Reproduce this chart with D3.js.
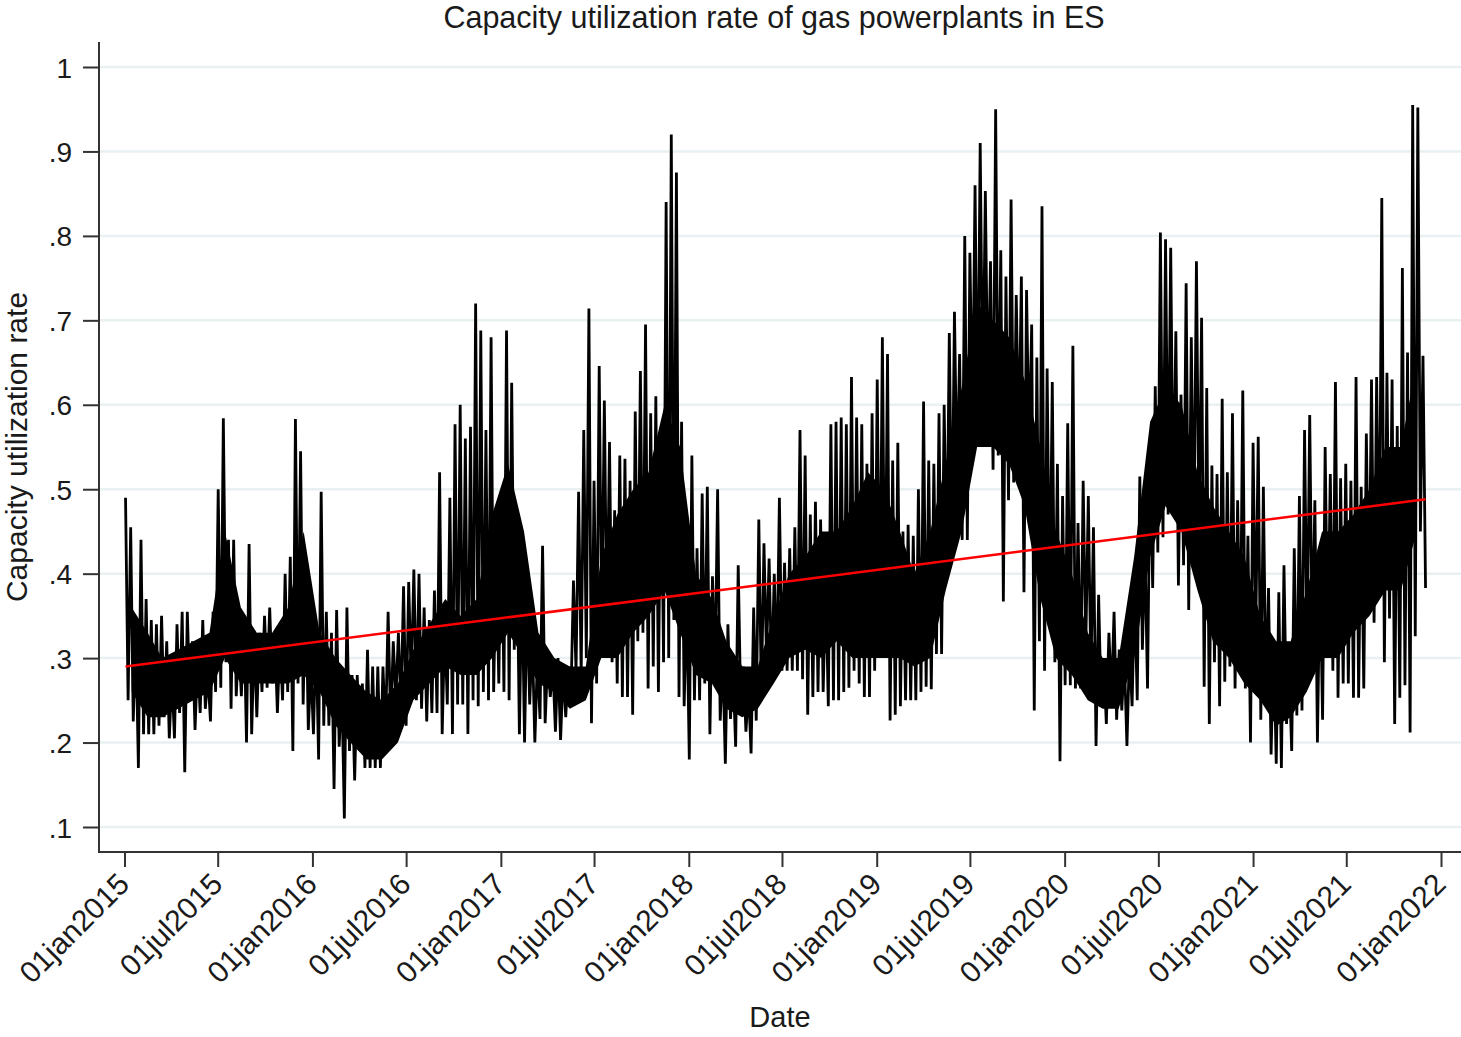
<!DOCTYPE html>
<html>
<head>
<meta charset="utf-8">
<script src="https://cdn.jsdelivr.net/npm/d3@7"></script>
<style>
  body { margin: 0; background: #fff; }
  text { font-family: "Liberation Sans", Arial, sans-serif; fill: #1a1a1a; }
</style>
</head>
<body>
<svg width="1461" height="1037"></svg>
<script>
// ---------------- data (10-day windows from 01jan2015) ----------------
const startDate = "2015-01-01";
const slotDays = 10;

// highest value seen in each 10-day window
const hiVals = [
  .49,.455,.33,.44,.37,.345,.34,.35,.32,.28,
  .34,.355,.355,.32,.30,.345,.28,.355,.50,.584,
  .44,.44,.32,.35,.435,.325,.33,.35,.36,.325,
  .325,.40,.42,.583,.545,.395,.29,.33,.497,.355,
  .33,.357,.27,.36,.28,.28,.27,.31,.29,
  .29,.29,.355,.32,.33,.385,.39,.405,.40,.36,
  .345,.38,.52,.34,.49,.577,.60,.56,.574,.72,
  .688,.57,.68,.43,.495,.688,.626,.445,.40,.37,
  .325,.30,.433,.30,.29,.30,.285,.29,.392,.497,
  .57,.714,.51,.646,.605,.556,.475,.54,.536,.51,
  .592,.64,.695,.59,.61,.57,.84,.92,.875,.58,
  .37,.54,.43,.495,.503,.397,.50,.30,.34,.285,
  .41,.29,.264,.36,.464,.436,.418,.40,.49,.413,
  .43,.455,.57,.54,.47,.485,.464,.39,.577,.58,
  .585,.577,.633,.585,.577,.53,.59,.63,.68,.66,
  .534,.555,.45,.458,.445,.50,.604,.534,.53,.59,
  .60,.685,.71,.66,.80,.78,.86,.91,.853,.77,
  .95,.783,.752,.843,.73,.752,.736,.695,.656,.835,
  .643,.627,.53,.492,.578,.67,.46,.51,.492,.455,
  .375,.295,.33,.355,.31,.30,.31,.378,.515,.43,
  .545,.622,.804,
  .796,.786,.687,.612,.744,.68,.77,.703,.62,.528,
  .518,.607,.52,.59,.487,.617,.445,.555,.562,.503,
  .383,.32,.378,.41,.29,.43,.492,.57,.588,.487,
  .41,.55,.518,.627,.513,.53,.51,.633,.503,.566,
  .63,.633,.845,.638,.63,.575,.762,.662,.955,.952,.658
];

// lowest value seen in each 10-day window
const loVals = [
  .25,.225,.17,.21,.21,.21,.22,.23,.205,.205,
  .235,.165,.25,.215,.235,.24,.225,.26,.265,.295,
  .24,.255,.255,.20,.21,.23,.26,.265,.27,.235,
  .25,.26,.19,.27,.245,.215,.21,.18,.22,.22,
  .145,.195,.11,.19,.155,.20,.17,.17,.17,
  .17,.21,.22,.25,.24,.22,.27,.25,.24,.225,
  .235,.235,.21,.245,.21,.245,.245,.21,.25,.243,
  .26,.25,.26,.27,.26,.25,.31,.21,.20,.245,
  .20,.228,.223,.254,.213,.203,.23,.25,.285,.28,
  .30,.223,.27,.33,.33,.295,.27,.254,.254,.233,
  .32,.33,.264,.29,.26,.295,.30,.345,.254,.243,
  .18,.25,.25,.27,.21,.28,.226,.175,.228,.195,
  .24,.213,.187,.226,.254,.30,.275,.28,.285,.285,
  .285,.285,.275,.233,.254,.26,.26,.243,.25,.25,
  .26,.265,.285,.27,.254,.254,.285,.32,.32,.226,
  .233,.243,.25,.25,.25,.26,.266,.263,.305,.305,
  .40,.42,.508,.44,.44,.575,.55,.596,.596,.523,
  .54,.367,.487,.508,.55,.378,.544,.238,.32,.285,
  .347,.295,.178,.268,.268,.264,.264,.31,.28,.196,
  .243,.222,.253,.227,.238,.196,.243,.25,.31,.264,
  .383,.425,.443,
  .47,.47,.386,.41,.357,.435,.435,.266,.222,.295,
  .243,.272,.29,.264,.29,.264,.20,.318,.227,.253,
  .186,.175,.17,.222,.19,.232,.238,.305,.31,.20,
  .227,.31,.285,.253,.27,.27,.253,.253,.264,.352,
  .342,.378,.295,.347,.222,.253,.268,.212,.326,.45,.383
];

// solid core of the band, one pair per month (jan2015 .. nov2021)
const coreMonths = 83;
const coreLo = [
  .26,.23,.23,.24,.25,.26,.30,.27,.27,.27,.27,.28,
  .26,.22,.20,.18,.18,.20,.25,.27,.29,.28,.28,.30,
  .33,.30,.27,.26,.24,.25,.30,.30,.33,.35,.38,.33,
  .28,.27,.24,.23,.24,.27,.30,.31,.30,.32,.30,.30,
  .30,.30,.29,.30,.38,.45,.55,.55,.53,.48,.37,.30,
  .28,.25,.24,.24,.30,.42,.48,.45,.38,.32,.30,.27,
  .25,.22,.23,.26,.30,.30,.33,.35,.38,.38,.45
];
const coreHi = [
  .36,.33,.30,.31,.32,.33,.45,.36,.33,.33,.36,.45,
  .33,.30,.28,.26,.25,.27,.31,.34,.37,.35,.37,.47,
  .53,.45,.33,.30,.29,.29,.42,.47,.50,.52,.60,.55,
  .40,.37,.32,.29,.29,.35,.40,.42,.45,.45,.48,.52,
  .50,.45,.40,.45,.53,.62,.72,.70,.68,.63,.55,.45,
  .40,.33,.30,.30,.42,.58,.62,.60,.52,.48,.45,.42,
  .35,.32,.32,.38,.45,.45,.47,.50,.55,.55,.65
];

// linear fit, value at first and last observation
const trendVals = [0.290, 0.488];

const yTicks = [0.1, 0.2, 0.3, 0.4, 0.5, 0.6, 0.7, 0.8, 0.9, 1];
const xTickDates = ["2015-01-01","2015-07-01","2016-01-01","2016-07-01","2017-01-01","2017-07-01",
  "2018-01-01","2018-07-01","2019-01-01","2019-07-01","2020-01-01","2020-07-01",
  "2021-01-01","2021-07-01","2022-01-01"];

const titleText = "Capacity utilization rate of gas powerplants in ES";
const yTitle = "Capacity utilization rate";
const xTitle = "Date";

// ---------------- setup ----------------
const parse = d3.timeParse("%Y-%m-%d");
const t0 = parse(startDate);

const series = [];
hiVals.forEach(function(h, i) {
  series.push({date: d3.timeDay.offset(t0, i*slotDays + 2), v: h});
  series.push({date: d3.timeDay.offset(t0, i*slotDays + 7), v: loVals[i]});
});

const core = d3.range(coreMonths).map(function(i) {
  return {date: d3.timeDay.offset(d3.timeMonth.offset(t0, i), 14), lo: coreLo[i], hi: coreHi[i]};
});

const frame = {left: 99, right: 1461, top: 42, bottom: 852};

const xs = d3.scaleTime().domain([parse("2015-01-01"), parse("2022-01-01")]).range([124.5, 1441]);
const ys = d3.scaleLinear().domain([0.1, 1]).range([827, 67]);

const svg = d3.select("svg");
svg.append("rect").attr("width", 1461).attr("height", 1037).attr("fill", "#fff");

// grid
svg.append("g").selectAll("line")
  .data(yTicks)
  .join("line")
  .attr("x1", frame.left + 1).attr("x2", frame.right)
  .attr("y1", d => ys(d)).attr("y2", d => ys(d))
  .attr("stroke", "#e8f0f2")
  .attr("stroke-width", 2.5);

// dense core of the daily series
svg.append("path")
  .datum(core)
  .attr("fill", "#000")
  .attr("d", d3.area()
    .x(d => xs(d.date))
    .y0(d => ys(d.lo))
    .y1(d => ys(d.hi)));

// series
const line = d3.line()
  .x(d => xs(d.date))
  .y(d => ys(d.v));

svg.append("path")
  .datum(series)
  .attr("fill", "none")
  .attr("stroke", "#000")
  .attr("stroke-width", 2.8)
  .attr("stroke-linejoin", "miter")
  .attr("stroke-miterlimit", 2)
  .attr("d", line);

// fitted line
const trend = [
  {date: series[0].date, v: trendVals[0]},
  {date: series[series.length-1].date, v: trendVals[1]}
];
svg.append("path")
  .datum(trend)
  .attr("fill", "none")
  .attr("stroke", "#ff0000")
  .attr("stroke-width", 2.5)
  .attr("d", line);

// ---------------- axes ----------------
const fmtY = d => d === 1 ? "1" : d3.format(".1f")(d).replace(/^0/, "");
const fmtX = d => d3.timeFormat("%d")(d) + d3.timeFormat("%b")(d).toLowerCase() + d3.timeFormat("%Y")(d);

const yAxis = svg.append("g")
  .attr("transform", "translate(" + frame.left + ",0)")
  .call(d3.axisLeft(ys).tickValues(yTicks).tickFormat(fmtY).tickSize(16).tickSizeOuter(0).tickPadding(11));
yAxis.select(".domain").remove();
yAxis.selectAll(".tick line").attr("stroke", "#333").attr("stroke-width", 2);
yAxis.selectAll(".tick text").attr("font-size", 28).attr("fill", "#1a1a1a").attr("dy", "0.36em");

const xAxis = svg.append("g")
  .attr("transform", "translate(0," + frame.bottom + ")")
  .call(d3.axisBottom(xs).tickValues(xTickDates.map(parse)).tickFormat(fmtX).tickSize(15).tickSizeOuter(0));
xAxis.select(".domain").remove();
xAxis.selectAll(".tick line").attr("stroke", "#333").attr("stroke-width", 2);
xAxis.selectAll(".tick text")
  .attr("font-size", 30)
  .attr("fill", "#1a1a1a")
  .attr("text-anchor", "end")
  .attr("x", 0).attr("y", 0).attr("dy", 0)
  .attr("transform", "translate(6,34) rotate(-45)");

// axis lines
svg.append("line")
  .attr("x1", frame.left).attr("x2", frame.left)
  .attr("y1", frame.top).attr("y2", frame.bottom + 1)
  .attr("stroke", "#333").attr("stroke-width", 2);
svg.append("line")
  .attr("x1", frame.left - 1).attr("x2", frame.right)
  .attr("y1", frame.bottom).attr("y2", frame.bottom)
  .attr("stroke", "#333").attr("stroke-width", 2);

// ---------------- titles ----------------
svg.append("text")
  .attr("x", 774).attr("y", 28)
  .attr("text-anchor", "middle")
  .attr("font-size", 30.5)
  .text(titleText);

svg.append("text")
  .attr("transform", "translate(27,447) rotate(-90)")
  .attr("text-anchor", "middle")
  .attr("font-size", 30)
  .text(yTitle);

svg.append("text")
  .attr("x", 780).attr("y", 1027)
  .attr("text-anchor", "middle")
  .attr("font-size", 29)
  .text(xTitle);
</script>
</body>
</html>
